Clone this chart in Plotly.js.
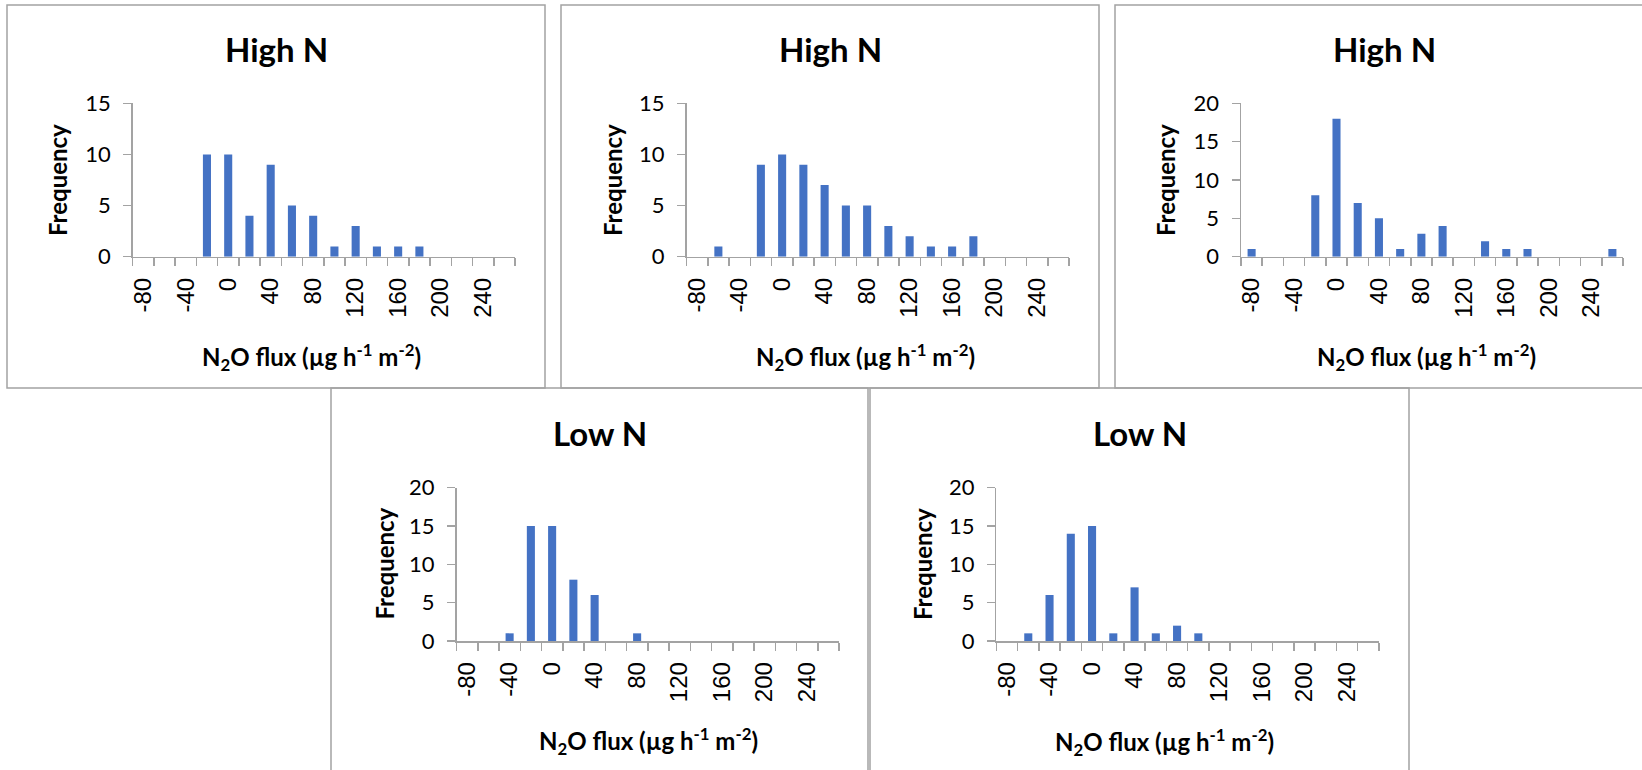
<!DOCTYPE html>
<html>
<head>
<meta charset="utf-8">
<script src="https://cdn.plot.ly/plotly-3.0.1.min.js"></script>
<style>
html,body{margin:0;padding:0;background:#fff;}
#chart{width:1642px;height:770px;}
</style>
</head>
<body>
<div id="chart"></div>
<script>
// Bin centres (N2O flux, µg h-1 m-2)
const bins = [-80,-60,-40,-20,0,20,40,60,80,100,120,140,160,180,200,220,240,260];
const tickLabels = [-80,-40,0,40,80,120,160,200,240];
const yTicks15 = [0,5,10,15];
const yTicks20 = [0,5,10,15,20];

// Frequencies
const highN_a = [0,0,0,10,10,4,9,5,4,1,3,1,1,1,0,0,0,0];
const highN_b = [0,1,0,9,10,9,7,5,5,3,2,1,1,2,0,0,0,0];
const highN_c = [1,0,0,8,18,7,5,1,3,4,0,2,1,1,0,0,0,1];
const lowN_a  = [0,0,1,15,15,8,6,0,1,0,0,0,0,0,0,0,0,0];
const lowN_b  = [0,1,6,14,15,1,7,1,2,1,0,0,0,0,0,0,0,0];

const titles = ['High N','High N','High N','Low N','Low N'];
const series = [highN_a, highN_b, highN_c, lowN_a, lowN_b];
const yMax = [15,15,20,20,20];

const W = 1642, H = 770;
const px = x => x / W;
const py = y => 1 - y / H;

// plot areas in pixels: [x0, x1, yTop, yBottom]
const areas = [
  [132.6, 515, 103.3, 256.7],
  [686.5, 1069, 103.3, 256.7],
  [1241, 1623, 103.3, 256.7],
  [456.5, 839, 487.7, 641],
  [996.4, 1379, 487.7, 641]
];
// frames
const frames = [
  [7, 545, 5, 388],
  [561, 1099, 5, 388],
  [1115, 1660, 5, 388],
  [331, 868, 388, 790],
  [870, 1409, 388, 790]
];
const titlePos = [[276,49],[830,49],[1384,49],[600,433],[1140,433]];
const xTitlePos = [[311,357],[865,357],[1426,357],[648,741],[1164,742]];
const yTitlePos = [[58,180],[613,180],[1166,180],[383.5,564],[922,564]];

const gray = '#A3A3A3';
const barColor = '#4472C4';

const data = [];
const layout = {
  width: W, height: H,
  margin: {l:0, r:0, t:0, b:0},
  paper_bgcolor: '#fff', plot_bgcolor: 'rgba(0,0,0,0)',
  showlegend: false,
  bargap: 0.62,
  shapes: [], annotations: []
};

series.forEach((vals, i) => {
  const n = i === 0 ? '' : String(i + 1);
  data.push({
    type: 'bar', x: bins, y: vals,
    xaxis: 'x' + n, yaxis: 'y' + n,
    marker: {color: barColor, line: {width: 0}},
    hoverinfo: 'x+y'
  });
  const a = areas[i];
  layout['xaxis' + n] = {
    domain: [px(a[0]), px(a[1])],
    anchor: 'y' + n,
    range: [-90, 270],
    tickmode: 'array', tickvals: tickLabels, ticktext: tickLabels.map(String),
    ticks: '', tickangle: -90,
    tickfont: {family: 'Liberation Sans, Arial, sans-serif', size: 24, color: '#000'},
    ticklabelstandoff: 10,
    minor: {ticks: 'outside', tick0: -90, dtick: 20, ticklen: 8, tickwidth: 1.5, tickcolor: gray, showgrid: false},
    showline: true, linecolor: gray, linewidth: 1.5,
    showgrid: false, zeroline: false, fixedrange: true
  };
  layout['yaxis' + n] = {
    domain: [py(a[3]), py(a[2])],
    anchor: 'x' + n,
    range: [0, yMax[i]],
    tickmode: 'array', tickvals: yMax[i] === 15 ? yTicks15 : yTicks20,
    ticks: 'outside', ticklen: 8, tickwidth: 1.5, tickcolor: gray,
    tickfont: {family: 'Lato, Calibri, sans-serif', size: 22, color: '#000'},
    ticklabelstandoff: 8,
    showline: true, linecolor: gray, linewidth: 1.5,
    showgrid: false, zeroline: false, fixedrange: true
  };
  const f = frames[i];
  layout.shapes.push({
    type: 'rect', xref: 'paper', yref: 'paper',
    x0: px(f[0]), x1: px(f[1]), y0: py(f[3]), y1: py(f[2]),
    line: {color: gray, width: 1.5}, fillcolor: 'rgba(0,0,0,0)', layer: 'below'
  });
  layout.annotations.push({
    xref: 'paper', yref: 'paper', x: px(titlePos[i][0]), y: py(titlePos[i][1]),
    xanchor: 'center', yanchor: 'middle', showarrow: false,
    text: '<b>' + titles[i] + '</b>',
    font: {family: 'Lato, Calibri, sans-serif', size: 33, color: '#000'}
  });
  layout.annotations.push({
    xref: 'paper', yref: 'paper', x: px(xTitlePos[i][0]), y: py(xTitlePos[i][1]),
    xanchor: 'center', yanchor: 'middle', showarrow: false,
    text: '<b>N<sub>2</sub>O flux (µg h<sup>-1</sup> m<sup>-2</sup>)</b>',
    font: {family: 'Lato, Calibri, sans-serif', size: 24, color: '#000'}
  });
  layout.annotations.push({
    xref: 'paper', yref: 'paper', x: px(yTitlePos[i][0]), y: py(yTitlePos[i][1]),
    xanchor: 'center', yanchor: 'middle', showarrow: false, textangle: -90,
    text: '<b>Frequency</b>',
    font: {family: 'Lato, Calibri, sans-serif', size: 24, color: '#000'}
  });
});

Plotly.newPlot('chart', data, layout, {staticPlot: true, displayModeBar: false});
</script>
</body>
</html>
